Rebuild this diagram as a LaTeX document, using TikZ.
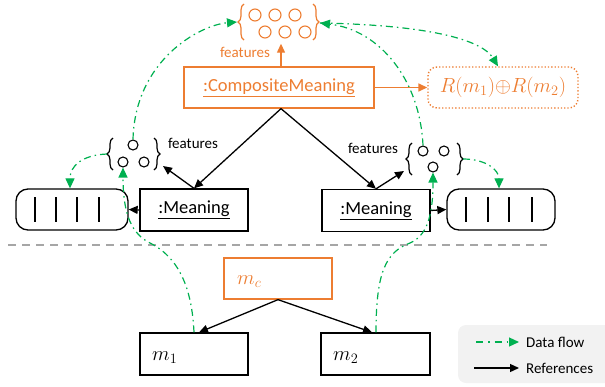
\RequirePackage{fix-cm}
\documentclass[tikz,border=0pt]{standalone}
\usepackage{fontspec}
\setmainfont{Carlito}
\usetikzlibrary{arrows.meta,decorations.pathreplacing,calc}
\definecolor{accent}{HTML}{ED7D31}
\definecolor{flowgreen}{HTML}{00B050}
\definecolor{sepgray}{HTML}{A6A6A6}
\definecolor{legendfill}{HTML}{F2F2F2}
\newcommand\bigtxt{\fontsize{18.5}{22}\selectfont}
\newcommand\smalltxt{\fontsize{15}{18}\selectfont}
\newcommand\mathtxt{\fontsize{20.5}{24}\selectfont}

\tikzset{
  objbox/.style={draw, line width=1.3pt, inner sep=0pt},
  orangebox/.style={objbox, draw=accent, text=accent},
  arraybox/.style={objbox, rounded corners=12pt},
  elem/.style={circle, draw, line width=1.1pt, minimum size=10pt, inner sep=0pt},
  bigelem/.style={elem, minimum size=12pt},
  setbrace/.style={decorate, decoration={brace, amplitude=6pt}, line width=1.2pt},
  bar/.style={line width=1.4pt},
  ref/.style={line width=1.3pt, -{Triangle[length=9pt,width=8pt]}},
  flow/.style={draw=flowgreen, line width=1.2pt,
    dash pattern=on 7pt off 4pt on 1.5pt off 4pt,
    -{Triangle[length=10pt,width=9pt]}},
  lbl/.style={inner sep=0pt},
}

\begin{document}
\begin{tikzpicture}[x=1pt,y=-1pt]
\useasboundingbox (0,0) rectangle (605,386);

% ---------- composite level ----------
\node[orangebox, minimum width=190pt, minimum height=41pt] (comp) at (279,87.5)
  {\bigtxt\underline{:CompositeMeaning}};
\node[objbox, draw=accent, dotted, line width=1.4pt, rounded corners=9pt,
      minimum width=150pt, minimum height=41pt, text=accent] (rsum) at (503,87.5)
  {\mathtxt$R(m_1){\oplus}R(m_2)$};

% composite feature set
\node[minimum width=80pt, minimum height=37pt, inner sep=0pt] (tset) at (278,22) {};
\draw[setbrace, accent] (244,40) -- (244,4);
\draw[setbrace, accent] (313,4) -- (313,40);
\foreach \x/\y [count=\i] in {255/15,275/15,295/15,265/32,285/32,305/32}
  \node[bigelem, draw=accent] (t\i) at (\x,\y) {};
\coordinate (tsetL) at (237,22);
\coordinate (tsetR) at (320,23);
\node[lbl, text=accent] (tfeat) at (245,52) {\smalltxt features};

\draw[ref, accent] (comp.north -| 281,0) -- (tset.south -| 281,0) [shorten >=3pt];
\draw[ref, accent, line width=1.5pt] (comp.east) -- (rsum.west);

% ---------- meaning level ----------
\node[objbox, minimum width=108pt, minimum height=42pt] (lmean) at (194,210)
  {\bigtxt\underline{:Meaning}};
\node[objbox, minimum width=108pt, minimum height=42pt] (rmean) at (376,210.5)
  {\bigtxt\underline{:Meaning}};

\node[arraybox, minimum width=112pt, minimum height=41pt] (larr) at (72,209.5) {};
\node[arraybox, minimum width=108pt, minimum height=41pt] (rarr) at (501,209.5) {};
\foreach \x in {35,56,77,99} \draw[bar] (\x,197) -- (\x,222);
\foreach \x in {466,488,509,532} \draw[bar] (\x,197) -- (\x,222);

% left feature set
\draw[setbrace] (113,170) -- (113,138);
\draw[setbrace] (154,138) -- (154,170);
\node[elem] (l1) at (133,145) {};
\node[elem] (l2) at (123,162) {};
\node[elem] (l3) at (144,162) {};
\coordinate (lsetL) at (107,154);
\coordinate (lsetR) at (163,166);
\node[lbl] (lfeat) at (193,143) {\smalltxt features};

% right feature set
\draw[setbrace] (412,175) -- (412,143);
\draw[setbrace] (457,143) -- (457,175);
\node[elem] (r1) at (423,151) {};
\node[elem] (r2) at (444,151) {};
\node[elem] (r3) at (433,167) {};
\coordinate (rsetL) at (404,171);
\coordinate (rsetR) at (463,159);
\node[lbl] (rfeat) at (373,148) {\smalltxt features};

% references between objects
\draw[ref] (comp.south -| 281,0) -- (lmean.north);
\draw[ref] (comp.south -| 281,0) -- (rmean.north);
\draw[ref] (lmean.north) -- (lsetR);
\draw[ref] (rmean.north) -- (rsetL);
\draw[ref] (lmean.west) -- (larr.east);
\draw[ref] (rmean.east) -- (rarr.west);

% separator
\draw[sepgray, line width=1.5pt, dash pattern=on 8pt off 6pt] (8,245) -- (547,245);

% ---------- expression level ----------
\node[orangebox, minimum width=108pt, minimum height=41pt] (mc) at (278,278.5) {};
\node[lbl, anchor=west, text=accent] (mclbl) at (237,282) {\mathtxt$m_c$};
\node[objbox, minimum width=108pt, minimum height=42pt] (mone) at (194,354) {};
\node[lbl, anchor=west] (monelbl) at (152,358) {\mathtxt$m_1$};
\node[objbox, minimum width=109pt, minimum height=42pt] (mtwo) at (375.5,354) {};
\node[lbl, anchor=west] (mtwolbl) at (333,358) {\mathtxt$m_2$};

\draw[ref] (mc.south) -- (mone.north -| 199,0);
\draw[ref] (mc.south) -- (mtwo.north -| 372,0);

% ---------- data flow ----------
\draw[flow] (mone.north -| 194,0) .. controls (192,290) and (180,258) .. (150,243)
  .. controls (132,234) and (123,215) .. (l2.south);
\draw[flow] (lsetL) .. controls (82,155) and (70,166) .. (larr.north -| 70,0);
\draw[flow] (l1.north) .. controls (135,60) and (200,25) .. (tsetL);
\draw[flow] (mtwo.north -| 376,0) .. controls (376,272) and (386,252) .. (410,243)
  .. controls (426,236) and (433,218) .. (r3.south);
\draw[flow] (rsetR) .. controls (486,159) and (499,170) .. (rarr.north -| 499,0);
\draw[flow] (r1.north) .. controls (420,80) and (380,30) .. (tsetR);
\draw[flow] (tsetR) .. controls (430,25) and (482,40) .. (rsum.north -| 498,0);

% ---------- legend ----------
\node[fill=legendfill, rounded corners=8pt, minimum width=160pt, minimum height=58pt,
      inner sep=0pt] (legend) at (538,354) {};
\coordinate (lgA) at (476,342);
\node[lbl, anchor=west] (lgflow) at (526,342) {\smalltxt Data flow};
\draw[flow, dash pattern=on 7pt off 5pt on 1.5pt off 5pt, shorten >=7pt] (lgA) -- (lgflow.west);
\coordinate (lgB) at (474,368);
\node[lbl, anchor=west] (lgref) at (526,368) {\smalltxt References};
\draw[ref, shorten >=7pt] (lgB) -- (lgref.west);
\end{tikzpicture}
\end{document}
